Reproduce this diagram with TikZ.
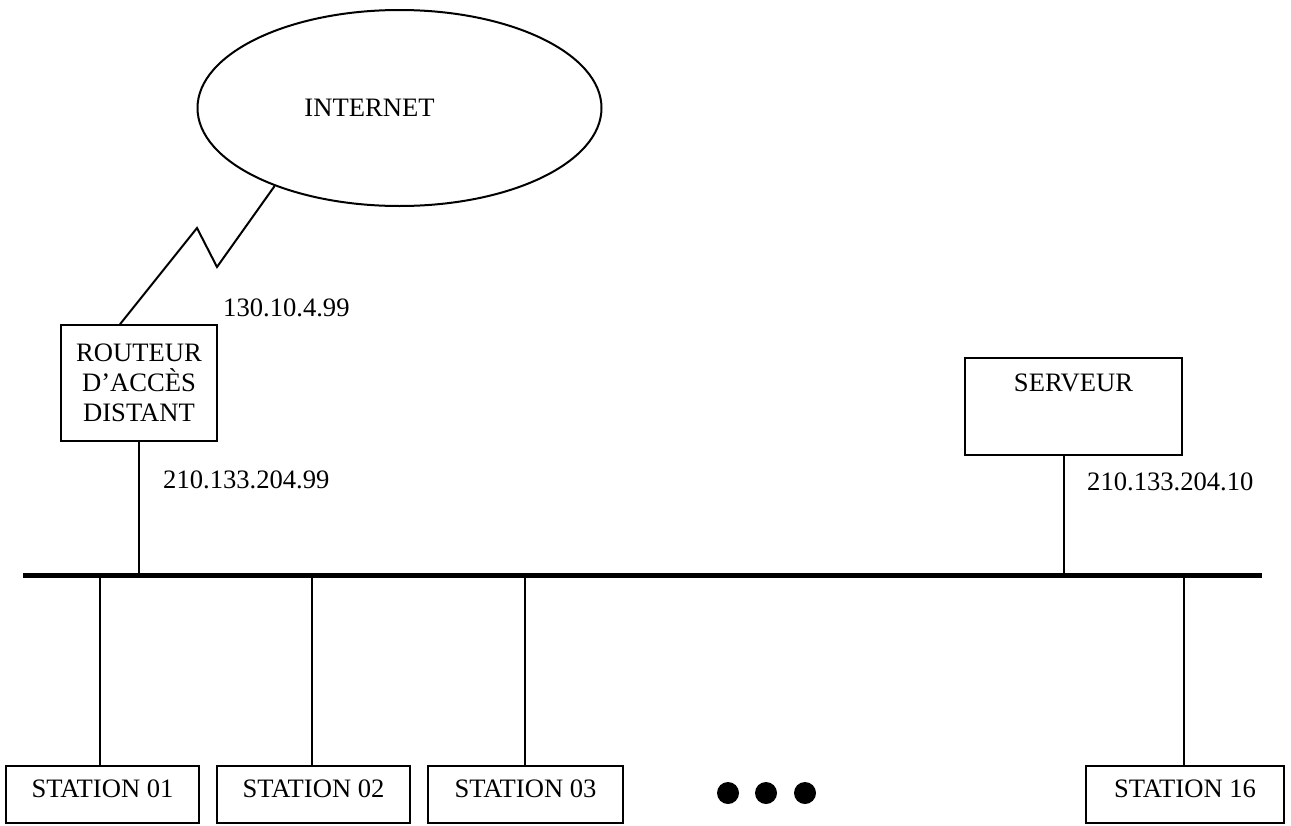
\documentclass[tikz,border=0pt]{standalone}
\usepackage{fontspec}
\setmainfont{Liberation Serif}
\usetikzlibrary{shapes.geometric,calc}
\tikzset{
  lab/.style={inner sep=0pt, font=\fontsize{26.6pt}{30pt}\selectfont},
  box/.style={draw, line width=1.5pt, inner sep=0pt, font=\fontsize{26.6pt}{30pt}\selectfont},
  stbox/.style={box, minimum height=57pt, text height=18pt, text depth=13pt},
  wire/.style={line width=1.5pt},
  bus/.style={line width=5pt},
  dot/.style={circle, fill=black, minimum size=22pt, inner sep=0pt}
}
\begin{document}
\begin{tikzpicture}[x=1pt,y=-1pt]
\useasboundingbox (0,0) rectangle (1291,825);
% Internet cloud
\node[ellipse, draw, line width=2pt, minimum width=404pt, minimum height=196pt, inner sep=0pt,
      font=\fontsize{26.6pt}{30pt}\selectfont] (net) at (399.5,108) {INTERNET\hspace*{60pt}};
% router
\node[box, minimum width=156pt, minimum height=116pt, align=center] (rtr) at (139,383)
  {ROUTEUR\\D’ACCÈS\\DISTANT};
% server
\node[box, minimum width=217pt, minimum height=97pt, text height=18pt, text depth=49pt] (srv) at (1073.5,406.5) {SERVEUR};
% bus
\coordinate (busL) at (23,575);
\coordinate (busR) at (1262,575);
\draw[bus] (busL) -- (busR);
% stations
\node[stbox, minimum width=193pt] (s1) at (102.5,794.5) {STATION 01};
\node[stbox, minimum width=193pt] (s2) at (313.5,794.5) {STATION 02};
\node[stbox, minimum width=195pt] (s3) at (525.5,794.5) {STATION 03};
\node[stbox, minimum width=198pt] (s16) at (1185,794.5) {STATION 16};
% ellipsis dots
\node[dot] (d1) at (728,793) {};
\node[dot] (d2) at (766,793) {};
\node[dot] (d3) at (805,793) {};
% zigzag link
\coordinate (z1) at (217,267);
\coordinate (z2) at (197,228);
\draw[wire, line width=2pt, line join=miter] (net.212.7) -- (z1) -- (z2) -- ($(rtr.north)+(-19,0)$);
% drops
\draw[wire] (rtr.south) -- (rtr.south |- busL);
\draw[wire] ($(srv.south)+(-9.5,0)$) coordinate (sd) -- (sd |- busL);
\foreach \s/\dx in {s1/-2.5,s2/-1.5,s3/-0.5,s16/-1} {
  \draw[wire] ($(\s.north)+(\dx,0)$) coordinate (t) -- (t |- busL);
}
% addresses
\node[lab, anchor=west] (ip1) at (223,308) {130.10.4.99};
\node[lab, anchor=west] (ip2) at (163,480) {210.133.204.99};
\node[lab, anchor=west] (ip3) at (1087,482) {210.133.204.10};
\end{tikzpicture}
\end{document}
